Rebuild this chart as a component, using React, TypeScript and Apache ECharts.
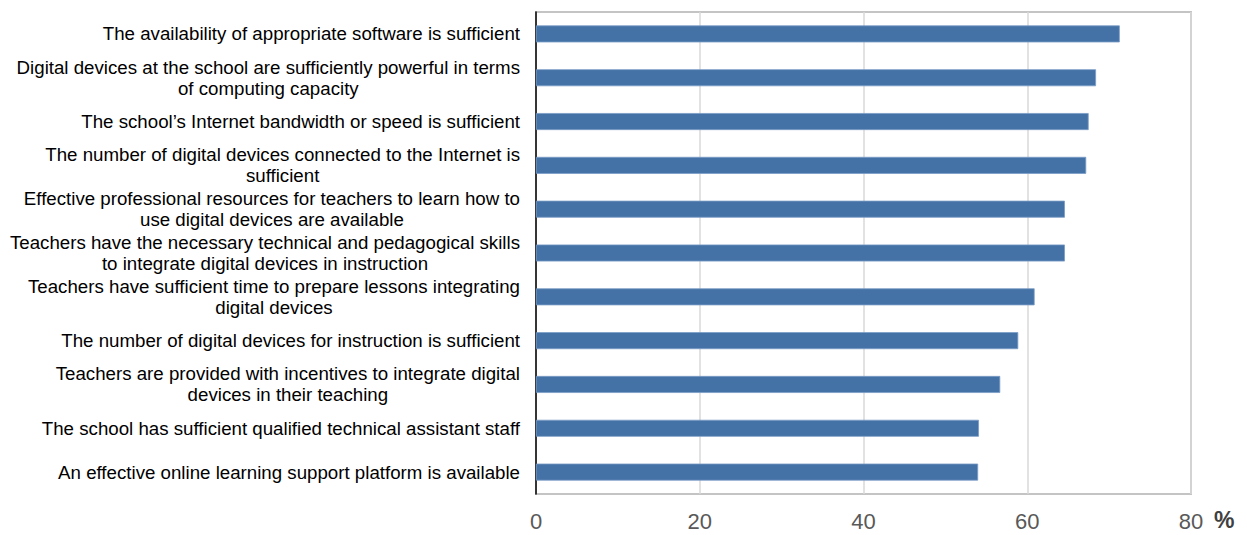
import React, { useEffect, useRef } from "react";
import * as echarts from "echarts";

const categories: string[] = [
  "The availability of appropriate software is sufficient",
  "Digital devices at the school are sufficiently powerful in terms\nof computing capacity",
  "The school\u2019s Internet bandwidth or speed is sufficient",
  "The number of digital devices connected to the Internet is\nsufficient",
  "Effective professional resources for teachers to learn how to\nuse digital devices are available",
  "Teachers have the necessary technical and pedagogical skills\nto integrate digital devices in instruction",
  "Teachers have sufficient time to prepare lessons integrating\ndigital devices",
  "The number of digital devices for instruction is sufficient",
  "Teachers are provided with incentives to integrate digital\ndevices in their teaching",
  "The school has sufficient qualified technical assistant staff",
  "An effective online learning support platform is available",
];

const values: number[] = [71.3, 68.4, 67.5, 67.2, 64.6, 64.6, 60.9, 58.9, 56.7, 54.1, 54.0];

const xTicks = { min: 0, max: 80, interval: 20 };

export default function App() {
  const ref = useRef<HTMLDivElement>(null);
  useEffect(() => {
    if (!ref.current) return;
    const chart = echarts.init(ref.current, undefined, { renderer: "svg" });
    chart.setOption({
      animation: false,
      backgroundColor: "#ffffff",
      grid: {
        left: 536,
        right: 56,
        top: 12,
        bottom: 41,
        show: true,
        borderColor: "#c4c4c4",
        borderWidth: 2,
        containLabel: false,
      },
      xAxis: {
        type: "value",
        min: xTicks.min,
        max: xTicks.max,
        interval: xTicks.interval,
        axisLine: { show: false },
        axisTick: { show: false },
        splitLine: { show: true, lineStyle: { color: "#d9d9d9", width: 1.5 } },
        axisLabel: {
          margin: 16,
          color: "#595959",
          fontSize: 22,
          fontFamily: "Liberation Sans, Arial, sans-serif",
        },
      },
      yAxis: {
        type: "category",
        data: categories,
        inverse: true,
        axisLine: { show: true, lineStyle: { color: "#000000", width: 1.5 } },
        axisTick: { show: false },
        axisLabel: {
          margin: 16,
          color: "#000000",
          fontSize: 18.7,
          fontFamily: "Liberation Sans, Arial, sans-serif",
          lineHeight: 21,
          interval: 0,
          formatter: (v: string) =>
            v
              .split("\n")
              .map((l) => `{c|${l}}`)
              .join("\n"),
          rich: {
            c: {
              align: "center",
              fontSize: 18.7,
              lineHeight: 21,
              color: "#000000",
              fontFamily: "Liberation Sans, Arial, sans-serif",
            },
          },
        },
      },
      series: [
        {
          type: "bar",
          data: values,
          barWidth: 17,
          itemStyle: { color: "#4472a6", borderColor: "#7a9cc6", borderWidth: 0.8 },
        },
      ],
      graphic: [
        {
          type: "text",
          left: 1214,
          top: 508,
          style: {
            text: "%",
            fontSize: 23,
            fontWeight: "bold",
            fill: "#404040",
            fontFamily: "Liberation Sans, Arial, sans-serif",
          },
        },
      ],
    });
    return () => chart.dispose();
  }, []);
  return (
    <div
      ref={ref}
      style={{ position: "fixed", left: 0, top: 0, width: 1247, height: 535 }}
    />
  );
}
